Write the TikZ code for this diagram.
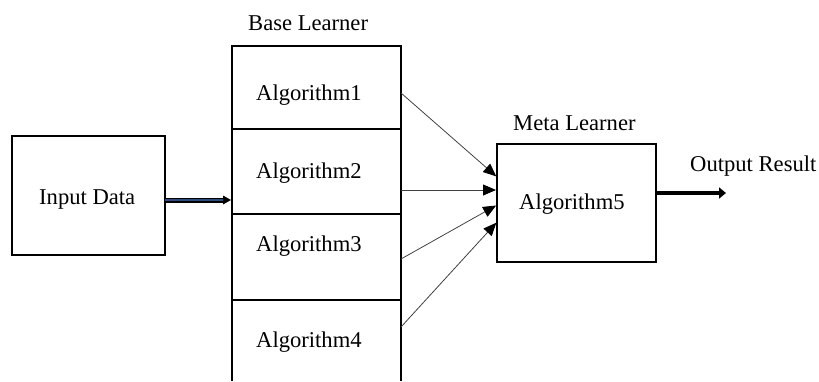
\documentclass[tikz,border=0pt]{standalone}
\usepackage{fontspec}
\setmainfont{Liberation Serif}
\usetikzlibrary{arrows.meta}
\definecolor{inblue}{HTML}{2E4A7D}
\definecolor{thin}{HTML}{404040}
\begin{document}
\begin{tikzpicture}[x=1pt,y=-1pt,
  box/.style={draw=black,line width=2pt,rectangle,inner sep=0pt,outer sep=0pt},
  lbl/.style={inner sep=0pt,anchor=base west,font=\fontsize{22.6}{24}\selectfont},
  feed/.style={draw=thin,line width=0.8pt,-{Triangle[length=13pt,width=11pt,fill=black,color=black]},shorten >=1pt}]
\useasboundingbox (0,0) rectangle (819,381);
% input
\node[box,minimum width=153pt,minimum height=119pt] (inp) at (88.5,195.5) {};
\node[lbl] (tinp) at (39,204) {Input Data};
% base learner
\node[lbl] (tbase) at (248,30) {Base Learner};
\node[box,minimum width=169pt,minimum height=83pt] (c1) at (316.5,87.5) {};
\node[box,minimum width=169pt,minimum height=85pt] (c2) at (316.5,171.5) {};
\node[box,minimum width=169pt,minimum height=86pt] (c3) at (316.5,257) {};
\node[inner sep=0pt,outer sep=0pt,minimum width=169pt,minimum height=81pt] (c4) at (316.5,340.5) {};
\draw[line width=2pt] (c4.south west) -- (c4.north west) -- (c4.north east) -- (c4.south east);
\node[lbl] (a1) at (256,100) {Algorithm1};
\node[lbl] (a2) at (256,178) {Algorithm2};
\node[lbl] (a3) at (256,251) {Algorithm3};
\node[lbl] (a4) at (256,347) {Algorithm4};
% meta
\node[lbl] (tmeta) at (513,130) {Meta Learner};
\node[box,minimum width=159pt,minimum height=118pt] (meta) at (576.5,203) {};
\node[lbl] (a5) at (519,209) {Algorithm5};
% output
\node[lbl] (tout) at (690,171) {Output Result};
\coordinate (oend) at (726,193);
% input arrow
\coordinate (ps) at ([yshift=-4.5pt]inp.east);
\coordinate (pe) at (c2.west |- ps);
\draw[line width=5pt,black] (ps) -- ([xshift=-6pt]pe);
\draw[line width=2.6pt,inblue] (ps) -- ([xshift=-6pt]pe);
\fill[black] ([xshift=-9pt,yshift=4.5pt]pe) -- ([xshift=-1pt]pe) -- ([xshift=-9pt,yshift=-4.5pt]pe) -- cycle;
% feeds
\draw[feed] ([yshift=-5.5pt]c1.east) -- ([yshift=26pt]meta.west);
\draw[feed] ([yshift=-18.5pt]c2.east) -- ([yshift=13pt]meta.west);
\draw[feed] ([yshift=-2pt]c3.east) -- ([yshift=-2pt]meta.west);
\draw[feed] ([yshift=13.5pt]c4.east) -- ([yshift=-19pt]meta.west);
% output arrow
\draw[line width=4.5pt,-{Triangle[length=7pt,width=11pt]}] ([yshift=10pt]meta.east) -- (oend);
\end{tikzpicture}
\end{document}
